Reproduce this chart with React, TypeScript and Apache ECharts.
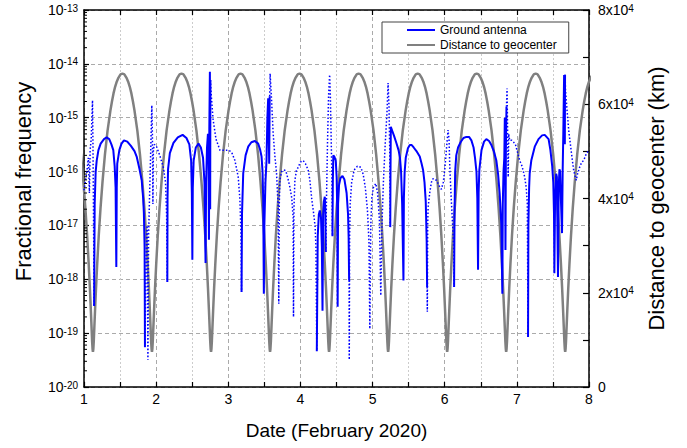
import React, { useEffect, useRef } from 'react';
import * as echarts from 'echarts';

const FONT = '"Liberation Sans", Arial, Helvetica, sans-serif';

// ---- axis ticks ----
const dateTicks = [1, 2, 3, 4, 5, 6, 7, 8];
const freqMin = 1e-20;
const freqMax = 1e-13;
const distanceMaxKm = 80000;
const distanceStepKm = 20000;

// ---- Distance to geocenter (km): orbit profile read from one revolution ----
const perigeeDays = [1.124, 1.942, 2.761, 3.579, 4.397, 5.216, 6.034, 6.852, 7.67];
const orbitOffsetDays = [0, 0.0027, 0.0054, 0.0117, 0.0195, 0.0297, 0.0429, 0.0596, 0.08, 0.1047, 0.1334, 0.1661, 0.2026, 0.2425, 0.2635, 0.2851, 0.3073, 0.3299, 0.3529, 0.3761, 0.3877, 0.4092];
const orbitDistanceKm = [7500, 7700, 8100, 9800, 12700, 16500, 21100, 26300, 32000, 37900, 43700, 49300, 54400, 58700, 60600, 62300, 63700, 64800, 65600, 66200, 66400, 66500];

// ---- Ground antenna fractional frequency: solid segments ----
const groundSolid: number[][][] = [
  [[1.14,3.2e-19],[1.148,2.5e-17],[1.162,1.0e-16],[1.176,1.6e-16],[1.2,2.5e-16],[1.231,3.3e-16],[1.277,4.0e-16],[1.314,4.3e-16],[1.35,4.0e-16],[1.38,3.2e-16],[1.406,2.5e-16],[1.425,1.26e-16],[1.438,5.0e-17],[1.448,1.7e-18],[1.454,5.0e-17],[1.461,1.4e-16],[1.49,2.5e-16],[1.52,3.3e-16],[1.554,3.8e-16],[1.6,3.6e-16],[1.65,3.0e-16],[1.7,2.4e-16],[1.73,1.9e-16],[1.77,1.1e-16],[1.8,6.9e-17],[1.82,3.2e-17],[1.83,1.7e-17],[1.84,4.0e-18],[1.845,5.5e-20]],
  [[2.155,8.9e-19],[2.158,3.2e-17],[2.165,1.1e-16],[2.19,2.2e-16],[2.24,3.4e-16],[2.3,4.3e-16],[2.367,4.8e-16],[2.42,4.2e-16],[2.46,3.2e-16],[2.485,1.6e-16],[2.495,4.0e-17],[2.502,2.3e-18],[2.508,5.0e-17],[2.52,1.6e-16],[2.55,2.8e-16],[2.587,3.3e-16],[2.62,2.8e-16],[2.65,1.8e-16],[2.67,6.3e-17],[2.685,2.0e-18],[2.693,6.3e-17],[2.705,2.8e-16],[2.718,5.0e-16],[2.726,3.2e-16],[2.732,5.4e-18],[2.737,6.3e-16],[2.745,7.1e-15],[2.749,2.0e-17],[2.752,5.0e-15]],
  [[3.184,5.8e-19],[3.19,1.6e-17],[3.207,9.3e-17],[3.24,2.0e-16],[3.276,2.9e-16],[3.32,3.5e-16],[3.369,3.7e-16],[3.414,3.3e-16],[3.44,2.6e-16],[3.461,1.9e-16],[3.475,1.0e-16],[3.484,3.0e-17],[3.493,5.4e-19],[3.5,1.0e-17],[3.515,6.3e-17],[3.53,1.6e-16],[3.542,1.0e-15],[3.553,2.3e-15],[3.56,6.3e-16],[3.567,1.4e-16],[3.574,2.5e-15]],
  [[4.227,4.6e-20],[4.24,6.3e-18],[4.255,1.6e-17],[4.269,1.9e-17],[4.285,1.4e-17],[4.297,4.0e-18],[4.306,2.6e-19],[4.315,1.6e-17],[4.325,2.8e-17],[4.338,3.4e-17],[4.345,2.0e-17],[4.352,3.2e-18]],
  [[4.444,6.3e-18],[4.449,6.3e-17],[4.456,2.0e-16],[4.47,1.9e-16],[4.49,1.6e-16],[4.502,7.9e-17],[4.51,2.0e-17],[4.516,3.1e-19],[4.522,2.5e-17],[4.535,5.6e-17],[4.555,7.6e-17],[4.583,8.3e-17],[4.61,7.1e-17],[4.64,4.0e-17],[4.66,1.6e-17],[4.668,6.3e-18],[4.675,9.5e-19]],
  [[5.245,9.3e-18],[5.248,7.9e-17],[5.253,6.8e-16],[5.275,5.6e-16],[5.3,4.5e-16],[5.33,3.4e-16],[5.36,2.5e-16],[5.38,1.8e-16],[5.395,1.0e-16],[5.41,2.5e-17],[5.428,9.5e-19],[5.434,3.2e-17],[5.445,1.0e-16],[5.46,1.8e-16],[5.49,2.7e-16],[5.516,3.1e-16],[5.543,3.1e-16],[5.57,2.8e-16],[5.608,2.4e-16],[5.654,1.9e-16],[5.68,1.4e-16],[5.7,1.07e-16],[5.72,6.3e-17],[5.737,2.8e-17],[5.75,5.0e-18],[5.756,7.2e-19]],
  [[6.13,7.2e-19],[6.136,1.6e-17],[6.145,1.0e-16],[6.16,2.0e-16],[6.185,2.8e-16],[6.22,3.5e-16],[6.26,4.2e-16],[6.3,4.4e-16],[6.337,4.4e-16],[6.37,3.8e-16],[6.4,2.8e-16],[6.42,1.8e-16],[6.44,1.0e-16],[6.452,3.2e-17],[6.462,1.5e-18],[6.47,4.0e-17],[6.48,1.07e-16],[6.51,2.5e-16],[6.545,3.6e-16],[6.577,4.0e-16],[6.615,3.7e-16],[6.647,3.1e-16],[6.68,2.4e-16],[6.716,1.6e-16],[6.74,8.9e-17],[6.762,3.9e-17],[6.785,1.0e-17],[6.799,5.4e-19],[6.805,2.5e-17],[6.815,1.0e-16],[6.826,1.8e-16],[6.833,1.0e-15],[6.838,1.26e-16],[6.842,3.5e-18],[6.848,2.5e-16],[6.856,1.6e-15]],
  [[7.155,8.5e-20],[7.16,1.0e-17],[7.17,5.0e-17],[7.178,9.3e-17],[7.2,1.6e-16],[7.248,2.9e-16],[7.3,4.0e-16],[7.35,4.7e-16],[7.386,4.8e-16],[7.44,4.0e-16],[7.465,2.5e-16],[7.49,1.26e-16],[7.505,6.3e-17],[7.515,1.6e-17],[7.52,1.3e-18],[7.53,3.2e-17],[7.545,9.1e-17],[7.555,7.9e-17],[7.57,1.1e-18],[7.58,5.0e-17],[7.59,1.1e-16],[7.6,1.0e-16],[7.61,3.2e-17],[7.626,7.2e-18],[7.635,1.0e-16],[7.645,6.3e-16],[7.655,6.2e-15],[7.66,2.5e-15],[7.665,3.2e-16],[7.668,6.3e-15]],
];

// ---- Ground antenna fractional frequency: dotted segments ----
const groundDotted: number[][][] = [
  [[1.0,4.5e-17],[1.04,1.0e-16],[1.06,1.8e-16],[1.075,4.0e-17],[1.085,2.5e-16],[1.1,4.0e-16],[1.118,2.1e-15],[1.125,2.5e-16],[1.132,1.6e-17],[1.14,3.2e-19]],
  [[1.845,5.5e-20],[1.86,2.5e-18],[1.875,1.0e-17],[1.886,3.2e-20],[1.895,6.3e-18],[1.91,4.0e-17],[1.925,2.5e-16],[1.94,1.7e-15],[1.948,5.0e-16],[1.955,2.5e-17],[1.962,2.5e-16],[1.975,3.2e-16],[2.006,2.9e-16],[2.05,2.0e-16],[2.1,1.2e-16],[2.13,6.3e-17],[2.145,1.6e-17],[2.155,8.9e-19]],
  [[2.752,5.0e-15],[2.765,2.5e-15],[2.79,9.1e-16],[2.83,4.0e-16],[2.884,2.5e-16],[2.95,2.5e-16],[3.0,2.5e-16],[3.046,2.3e-16],[3.092,1.6e-16],[3.138,7.9e-17],[3.161,3.0e-17],[3.175,7.9e-18],[3.184,5.8e-19]],
  [[3.574,2.5e-15],[3.58,6.6e-15],[3.6,2.1e-15],[3.622,5.1e-16],[3.645,2.0e-16],[3.669,9.3e-17],[3.691,2.2e-17],[3.7,3.5e-19],[3.707,2.5e-17],[3.715,6.9e-17],[3.74,1.0e-16],[3.766,1.07e-16],[3.79,1.05e-16],[3.807,9.3e-17],[3.83,7.1e-17],[3.853,5.2e-17],[3.88,3.2e-17],[3.899,1.4e-17],[3.904,2.0e-19],[3.91,2.0e-17],[3.923,6.9e-17],[3.945,1.05e-16],[3.969,1.2e-16],[4.0,1.5e-16],[4.038,1.6e-16],[4.07,1.4e-16],[4.107,1.07e-16],[4.13,7.1e-17],[4.158,3.0e-17],[4.185,1.6e-17],[4.204,9.3e-18],[4.215,4.0e-18],[4.227,4.6e-20]],
  [[4.352,3.2e-18],[4.36,2.5e-17],[4.375,3.2e-16],[4.39,2.5e-15],[4.405,6.3e-15],[4.415,2.5e-15],[4.425,5.0e-16],[4.435,1.0e-16],[4.444,6.3e-18]],
  [[4.675,9.5e-19],[4.677,3.2e-20],[4.682,6.3e-18],[4.69,2.5e-17],[4.71,6.3e-17],[4.745,1.07e-16],[4.79,1.26e-16],[4.837,1.2e-16],[4.87,8.9e-17],[4.9,5.0e-17],[4.929,1.9e-17],[4.95,5.0e-18],[4.962,1.2e-19],[4.975,1.0e-17],[4.99,3.2e-17],[5.01,5.0e-17],[5.045,6.0e-17],[5.07,4.0e-17],[5.095,1.26e-17],[5.114,5.0e-19],[5.13,1.0e-17],[5.15,6.3e-17],[5.175,3.2e-16],[5.2,1.26e-15],[5.215,4.4e-15],[5.228,1.6e-15],[5.238,2.5e-16],[5.245,9.3e-18]],
  [[5.756,7.2e-19],[5.759,2.5e-19],[5.764,1.0e-17],[5.77,2.2e-17],[5.792,4.0e-17],[5.815,6.3e-17],[5.839,7.4e-17],[5.885,6.9e-17],[5.931,5.2e-17],[5.954,4.7e-17],[5.98,6.3e-17],[6.0,1.07e-16],[6.023,2.5e-16],[6.046,5.9e-16],[6.06,4.0e-16],[6.07,1.26e-16],[6.09,3.2e-17],[6.11,1.0e-17],[6.125,3.2e-18],[6.13,7.2e-19]],
  [[6.856,1.6e-15],[6.864,3.5e-15],[6.872,5.0e-16],[6.88,7.9e-17],[6.887,5.0e-16],[6.9,3.8e-16],[6.93,3.8e-16],[6.956,3.5e-16],[6.98,3.2e-16],[7.04,1.6e-16],[7.072,1.26e-16],[7.109,7.9e-17],[7.13,5.0e-17],[7.145,2.5e-17],[7.155,8.5e-20]],
  [[7.668,6.3e-15],[7.675,3.2e-15],[7.695,1.4e-15],[7.72,5.6e-16],[7.741,3.3e-16],[7.765,1.8e-16],[7.787,1.07e-16],[7.81,7.9e-17],[7.824,6.9e-17],[7.84,8.9e-17],[7.87,1.2e-16],[7.9,1.5e-16],[7.926,1.6e-16],[7.96,2.1e-16],[8.0,2.5e-16]],
];

const BLUE = '#0000ff';
const GRAY = '#808080';

function buildDistance(): number[][] {
  const pts: number[][] = [];
  perigeeDays.forEach((tp) => {
    for (let i = orbitOffsetDays.length - 1; i > 0; i--) pts.push([tp - orbitOffsetDays[i], orbitDistanceKm[i]]);
    for (let i = 0; i < orbitOffsetDays.length; i++) pts.push([tp + orbitOffsetDays[i], orbitDistanceKm[i]]);
  });
  pts.sort((a, b) => a[0] - b[0]);
  return pts;
}

function logMinorTicks(): number[][] {
  const out: number[][] = [];
  for (let e = -20; e < -13; e++) {
    for (let m = 2; m <= 9; m++) out.push([dateTicks[0], m * Math.pow(10, e)]);
  }
  return out;
}

export default function App() {
  const ref = useRef<HTMLDivElement>(null);
  useEffect(() => {
    if (!ref.current) return;
    const chart = echarts.init(ref.current, undefined, { renderer: 'svg' });
    const axisLine = { show: true, lineStyle: { color: '#000', width: 1.5 } };
    const tick = { show: true, inside: true, length: 5, lineStyle: { color: '#000', width: 1.2 } };
    const series: any[] = [];
    series.push({
      name: 'Distance to geocenter',
      type: 'line',
      xAxisIndex: 0,
      yAxisIndex: 1,
      data: buildDistance(),
      symbol: 'none',
      lineStyle: { color: GRAY, width: 2.5 },
      itemStyle: { color: GRAY },
      z: 2,
    });
    groundDotted.forEach((seg) => {
      series.push({
        name: 'Ground antenna dotted',
        type: 'line',
        xAxisIndex: 0,
        yAxisIndex: 0,
        data: seg,
        symbol: 'none',
        lineStyle: { color: BLUE, width: 1.5, type: [1.5, 2] },
        itemStyle: { color: BLUE },
        z: 3,
      });
    });
    groundSolid.forEach((seg) => {
      series.push({
        name: 'Ground antenna',
        type: 'line',
        xAxisIndex: 0,
        yAxisIndex: 0,
        data: seg,
        symbol: 'none',
        lineStyle: { color: BLUE, width: 2 },
        itemStyle: { color: BLUE },
        z: 4,
      });
    });
    series.push({
      type: 'custom',
      name: 'minor ticks',
      xAxisIndex: 0,
      yAxisIndex: 0,
      data: logMinorTicks(),
      silent: true,
      clip: false,
      z: 10,
      renderItem: (_p: any, api: any) => {
        const pt = api.coord([api.value(0), api.value(1)]);
        return {
          type: 'line',
          shape: { x1: pt[0], y1: pt[1], x2: pt[0] + 3, y2: pt[1] },
          style: { stroke: '#000', lineWidth: 1 },
        };
      },
    });

    chart.setOption({
      animation: false,
      backgroundColor: '#fff',
      textStyle: { fontFamily: FONT },
      grid: { left: 84, right: 98, top: 10, bottom: 61, containLabel: false },
      legend: {
        data: ['Ground antenna', 'Distance to geocenter'],
        orient: 'vertical',
        left: 382,
        top: 22,
        itemWidth: 28,
        itemHeight: 12,
        itemGap: 3,
        padding: [2, 12, 2, 24],
        borderColor: '#444',
        borderWidth: 1,
        backgroundColor: '#fff',
        itemStyle: { opacity: 0, borderWidth: 0 },
        textStyle: { fontSize: 12, fontFamily: FONT, color: '#000' },
      },
      xAxis: [
        {
          type: 'value',
          min: dateTicks[0],
          max: dateTicks[dateTicks.length - 1],
          interval: 1,
          position: 'bottom',
          axisLine,
          axisTick: tick,
          minorTick: { show: true, splitNumber: 2, length: 5, lineStyle: { color: '#000', width: 1.2 } },
          axisLabel: { fontSize: 14, color: '#000', margin: 5, fontFamily: FONT },
          splitLine: { show: true, lineStyle: { type: [4, 3], color: '#aaa', width: 1 } },
          minorSplitLine: { show: true, lineStyle: { type: [2, 2], color: '#ccc', width: 1 } },
          name: 'Date (February 2020)',
          nameLocation: 'middle',
          nameGap: 34,
          nameTextStyle: { fontSize: 19, fontFamily: FONT, color: '#000' },
        },
        {
          type: 'value',
          min: dateTicks[0],
          max: dateTicks[dateTicks.length - 1],
          interval: 1,
          position: 'top',
          axisLine,
          axisTick: tick,
          minorTick: { show: true, splitNumber: 2, length: 5, lineStyle: { color: '#000', width: 1.2 } },
          axisLabel: { show: false },
          splitLine: { show: false },
        },
      ],
      yAxis: [
        {
          type: 'log',
          logBase: 10,
          min: freqMin,
          max: freqMax,
          splitNumber: 7,
          position: 'left',
          axisLine,
          axisTick: { ...tick, length: 5 },
          axisLabel: {
            margin: 6,
            color: '#000',
            formatter: (v: number) => `{b|10}{s|${Math.round(Math.log10(v))}}`,
            rich: {
              b: { fontSize: 14, fontFamily: FONT, color: '#000' },
              s: { fontSize: 10, fontFamily: FONT, color: '#000', verticalAlign: 'top' },
            },
          },
          splitLine: { show: true, lineStyle: { type: [4, 3], color: '#aaa', width: 1 } },
          name: 'Fractional frequency',
          nameLocation: 'middle',
          nameRotate: 90,
          nameGap: 50,
          nameTextStyle: { fontSize: 22, fontFamily: FONT, color: '#000', padding: [0, 0, 0, 34] },
        },
        {
          type: 'value',
          min: 0,
          max: distanceMaxKm,
          interval: distanceStepKm,
          position: 'right',
          axisLine,
          axisTick: { ...tick, length: 6 },
          minorTick: { show: true, splitNumber: 2, length: 6, lineStyle: { color: '#000', width: 1.2 } },
          axisLabel: {
            margin: 9,
            color: '#000',
            formatter: (v: number) => (v === 0 ? '{b|0}' : `{b|${v / 10000}x10}{s|4}`),
            rich: {
              b: { fontSize: 14, fontFamily: FONT, color: '#000' },
              s: { fontSize: 10, fontFamily: FONT, color: '#000', verticalAlign: 'top' },
            },
          },
          splitLine: { show: false },
          name: 'Distance to geocenter (km)',
          nameLocation: 'middle',
          nameRotate: 90,
          nameGap: 56,
          nameTextStyle: { fontSize: 22, fontFamily: FONT, color: '#000' },
        },
      ],
      series,
    });
    return () => chart.dispose();
  }, []);
  return <div ref={ref} style={{ position: 'fixed', left: 0, top: 0, width: 687, height: 448 }} />;
}
